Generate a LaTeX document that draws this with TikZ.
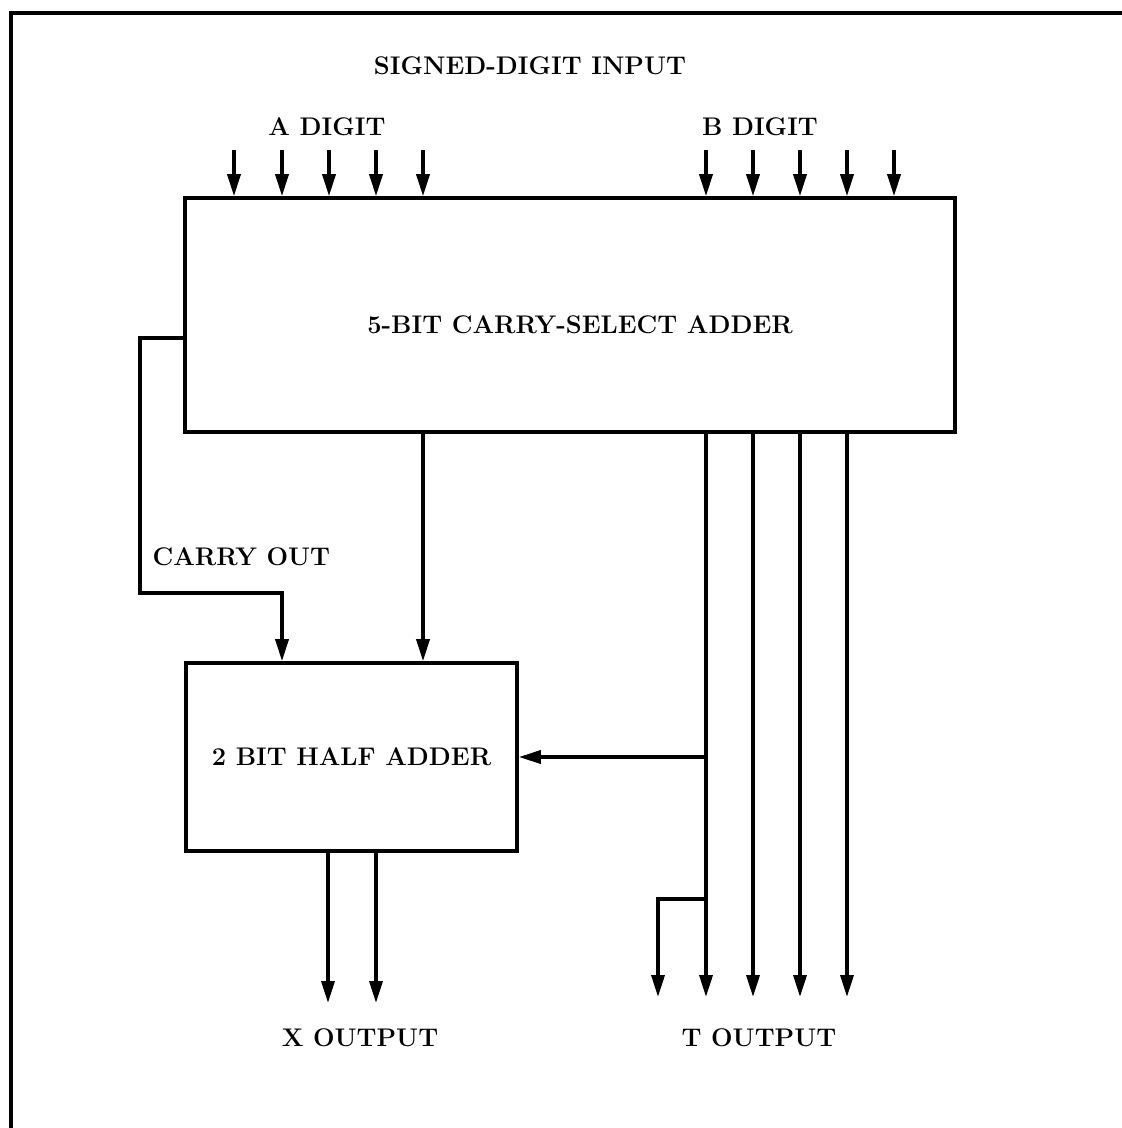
\documentclass[tikz,border=0pt]{standalone}
\usepackage{fontspec}
\usetikzlibrary{arrows.meta}

\begin{document}
\begin{tikzpicture}[x=1pt, y=-1pt,
    sig/.style={line width=3.6pt, -{Triangle[length=22pt,width=13pt]}},
    wire/.style={line width=3.6pt},
    blk/.style={draw, line width=3.6pt, inner sep=0pt},
    lbl/.style={font=\fontsize{25.5}{30}\selectfont\bfseries\addfontfeatures{FakeBold=1.2}}]

    \useasboundingbox (0,0) rectangle (1122,1128);

    % Cadre
    \draw[wire] (11,1128) -- (11,13) -- (1122,13);

    % Blocs
    \node[blk, minimum width=770pt, minimum height=234pt] (csa) at (570,315) {};
    \node[lbl] (csatxt) at (580,325) {5-BIT CARRY-SELECT ADDER};
    \node[blk, lbl, minimum width=331pt, minimum height=188pt] (ha) at (351.5,757) {2 BIT HALF ADDER};

    % Libellés
    \node[lbl] (title) at (530,66) {SIGNED-DIGIT INPUT};
    \node[lbl] (adig) at (327,127) {A DIGIT};
    \node[lbl] (bdig) at (760,127) {B DIGIT};
    \node[lbl, anchor=west] (cout) at (149,557) {CARRY OUT};
    \node[lbl] (xout) at (360,1038) {X OUTPUT};
    \node[lbl] (tout) at (759,1038) {T OUTPUT};

    % Entrées A et B
    \foreach \x in {234,282,329,376,423,706,753,800,847,894} {
        \coordinate (in\x) at (\x,150);
        \draw[sig] (in\x) -- (\x,0 |- csa.north);
    }

    % Retenue sortante
    \coordinate (cobend) at (140,593);
    \draw[sig] ([yshift=-23pt]csa.west) -| (cobend) -| ([xshift=-69.5pt]ha.north);

    % Liaison centrale
    \draw[sig] (423,0 |- csa.south) -- (423,0 |- ha.north);

    % Sorties T
    \foreach \x in {706,753,800,847} {
        \coordinate (t\x) at (\x,997);
        \draw[sig] (\x,0 |- csa.south) -- (t\x);
    }
    \draw[sig] (706,0 |- ha.east) -- (ha.east);
    \coordinate (t658) at (658,997);
    \draw[sig] (706,899) -| (t658);

    % Sorties X
    \foreach \x in {328,376} {
        \coordinate (x\x) at (\x,1003);
        \draw[sig] (\x,0 |- ha.south) -- (x\x);
    }

\end{tikzpicture}
\end{document}
